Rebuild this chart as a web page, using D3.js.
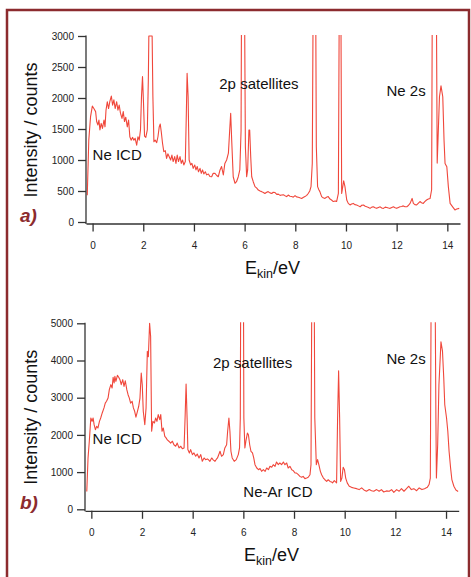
<!DOCTYPE html>
<html>
<head>
<meta charset="utf-8">
<script src="https://cdn.jsdelivr.net/npm/d3@7"></script>
<style>
  body { margin: 0; background: #fff; }
  svg { font-family: "Liberation Sans", Arial, Helvetica, sans-serif; }
</style>
</head>
<body>
<script>
// spectrum a)
var energyA = [-0.21,-0.15,-0.08,-0.01,0.05,0.12,0.16,0.21,0.25,0.29,0.34,0.39,0.45,0.49,0.53,0.58,0.63,0.68,0.74,0.79,0.84,0.89,0.95,1.00,1.05,1.10,1.16,1.21,1.26,1.31,1.37,1.42,1.47,1.52,1.58,1.63,1.68,1.74,1.79,1.84,1.89,1.93,1.97,2.01,2.05,2.10,2.16,2.20,2.22,2.35,2.38,2.42,2.47,2.53,2.58,2.63,2.67,2.71,2.76,2.81,2.87,2.92,2.97,3.02,3.08,3.13,3.18,3.24,3.29,3.34,3.39,3.45,3.50,3.55,3.60,3.66,3.70,3.73,3.77,3.81,3.87,3.92,3.97,4.03,4.08,4.13,4.18,4.24,4.29,4.34,4.39,4.45,4.50,4.57,4.63,4.70,4.76,4.83,4.90,4.96,5.03,5.09,5.16,5.22,5.29,5.36,5.41,5.45,5.49,5.55,5.62,5.68,5.75,5.81,5.86,5.89,5.94,5.99,6.03,6.08,6.12,6.17,6.20,6.24,6.28,6.34,6.41,6.48,6.54,6.61,6.67,6.74,6.80,6.87,6.93,7.00,7.07,7.13,7.20,7.27,7.33,7.40,7.46,7.53,7.59,7.66,7.72,7.79,7.86,7.92,7.99,8.05,8.12,8.18,8.25,8.31,8.38,8.45,8.51,8.57,8.62,8.67,8.71,8.76,8.80,8.83,8.88,8.93,8.97,9.04,9.10,9.17,9.23,9.30,9.37,9.43,9.50,9.57,9.63,9.70,9.74,9.77,9.80,9.83,9.87,9.91,9.96,10.03,10.09,10.16,10.22,10.29,10.35,10.42,10.49,10.56,10.62,10.69,10.76,10.82,10.89,10.95,11.02,11.08,11.15,11.21,11.28,11.35,11.41,11.48,11.55,11.61,11.68,11.74,11.81,11.87,11.94,12.00,12.07,12.13,12.20,12.26,12.33,12.40,12.47,12.53,12.61,12.66,12.72,12.79,12.85,12.92,12.98,13.05,13.11,13.18,13.25,13.32,13.38,13.41,13.47,13.55,13.60,13.69,13.75,13.82,13.87,13.91,13.98,14.04,14.11,14.21,14.30,14.37,14.47];
var countsA = [430,1320,1700,1870,1830,1780,1620,1565,1645,1485,1590,1510,1645,1535,1805,1940,1830,1940,2030,1885,1970,1830,1940,1805,1885,1755,1670,1780,1620,1690,1535,1645,1375,1320,1365,1320,1350,1240,1375,1320,1485,2020,2345,1915,1385,1365,1485,2290,3000,3000,2020,1295,1320,1280,1375,1535,1580,1455,1270,1135,1150,1025,1100,1055,1000,1080,975,1055,945,1080,975,1055,945,1000,920,975,1755,2400,2020,1000,920,945,865,920,840,895,810,865,785,840,775,810,760,775,735,730,785,785,750,730,840,895,760,945,1000,1110,1475,1755,1320,730,625,650,730,840,1475,5000,8000,4000,1215,730,840,1485,1485,1055,730,650,570,545,515,500,490,475,460,480,490,470,460,480,475,445,450,430,435,440,425,410,435,415,410,400,425,405,400,390,380,395,410,430,460,500,570,945,4000,8000,4000,1215,570,520,490,410,390,380,400,410,370,355,330,340,330,460,4000,8000,3500,460,560,665,570,355,300,275,290,300,280,275,260,245,270,275,255,245,235,220,240,245,230,220,235,245,225,220,240,235,225,220,235,245,230,220,235,245,250,260,245,245,270,300,380,300,280,275,300,330,310,300,330,355,370,380,520,4000,9000,5000,950,2020,2195,2020,1320,945,890,570,300,245,195,210,220];

// spectrum b)
var energyB = [-0.18,-0.13,-0.08,-0.02,0.03,0.07,0.11,0.16,0.21,0.26,0.32,0.37,0.43,0.50,0.55,0.60,0.66,0.71,0.77,0.82,0.86,0.90,0.93,0.97,1.03,1.08,1.13,1.18,1.24,1.29,1.34,1.40,1.45,1.50,1.55,1.61,1.66,1.71,1.76,1.82,1.87,1.92,1.97,2.01,2.05,2.11,2.16,2.21,2.25,2.30,2.34,2.38,2.43,2.49,2.54,2.59,2.64,2.70,2.74,2.79,2.84,2.90,2.95,3.00,3.06,3.13,3.20,3.26,3.33,3.39,3.46,3.53,3.59,3.66,3.70,3.74,3.78,3.81,3.87,3.92,3.99,4.05,4.12,4.18,4.25,4.32,4.38,4.45,4.51,4.58,4.62,4.68,4.75,4.81,4.88,4.93,4.98,5.08,5.14,5.21,5.27,5.34,5.38,5.43,5.47,5.51,5.56,5.64,5.72,5.80,5.85,5.88,5.90,5.95,6.00,6.02,6.06,6.10,6.16,6.20,6.25,6.30,6.36,6.41,6.46,6.53,6.60,6.66,6.72,6.79,6.86,6.92,6.99,7.05,7.12,7.18,7.25,7.31,7.38,7.44,7.51,7.58,7.64,7.71,7.77,7.84,7.91,7.97,8.04,8.10,8.17,8.23,8.30,8.36,8.43,8.50,8.56,8.63,8.67,8.71,8.75,8.79,8.82,8.88,8.93,8.98,9.04,9.09,9.16,9.22,9.29,9.35,9.42,9.48,9.52,9.59,9.64,9.68,9.72,9.76,9.80,9.84,9.89,9.94,9.99,10.04,10.10,10.18,10.27,10.36,10.47,10.57,10.67,10.76,10.86,10.97,11.06,11.15,11.26,11.36,11.45,11.54,11.65,11.76,11.85,11.94,12.05,12.15,12.24,12.34,12.44,12.53,12.63,12.73,12.84,12.94,13.05,13.15,13.26,13.33,13.38,13.42,13.49,13.56,13.60,13.62,13.67,13.72,13.80,13.86,13.91,13.95,14.02,14.07,14.12,14.18,14.23,14.31,14.39,14.48];
var countsB = [480,1380,1830,2455,2365,2455,2275,2140,2230,2185,2365,2455,2590,2725,2855,2905,2990,3215,3350,3260,3550,3395,3575,3440,3600,3550,3485,3350,3485,3305,3455,3215,3080,2990,2855,2905,2725,2635,2475,2635,2770,2990,3665,3350,2635,2275,2725,4245,4100,5000,4650,2100,2365,2320,2455,2365,2545,2410,2545,2100,2185,1960,1920,1865,1830,1780,1830,1735,1695,1780,1650,1695,1630,1650,2455,3370,2455,1605,1515,1605,1470,1515,1425,1485,1380,1470,1290,1380,1335,1355,1335,1290,1380,1330,1290,1340,1380,1560,1425,1470,1650,1735,2100,2455,2100,1560,1380,1290,1335,1470,1650,2455,7000,12000,7000,2455,1650,1830,2050,2005,1735,1560,1515,1380,1200,1110,1065,1095,1020,1065,1020,1110,1065,1155,1130,1200,1155,1270,1200,1245,1200,1270,1200,1245,1110,1155,1065,1040,975,975,930,885,860,885,825,840,860,930,1200,7000,12000,7000,2455,1200,1335,1200,1020,930,840,795,750,795,750,735,710,770,735,710,2455,3725,2455,750,840,1130,1065,840,710,620,590,575,555,530,575,520,485,530,500,485,530,485,530,465,495,485,530,455,530,485,555,485,555,620,530,555,500,575,530,555,590,665,840,7000,12000,7000,2455,840,1735,3350,4500,4250,3530,2810,2455,2100,1560,1110,800,620,520,480];

var xTicks = [0, 2, 4, 6, 8, 10, 12, 14];
var yTicksA = [0, 500, 1000, 1500, 2000, 2500, 3000];
var yTicksB = [0, 1000, 2000, 3000, 4000, 5000];

var labelsA = [["Ne ICD", 0.0, 1000], ["2p satellites", 5.0, 2150], ["Ne 2s", 11.6, 2040]];
var labelsB = [["Ne ICD", 0.05, 1760], ["2p satellites", 4.8, 3800], ["Ne 2s", 11.65, 3900], ["Ne-Ar ICD", 6.0, 330]];

var svg = d3.select("body").append("svg")
    .attr("width", 471)
    .attr("height", 577);

// dark red frame
svg.append("rect")
    .attr("x", 7).attr("y", 10)
    .attr("width", 462).attr("height", 600)
    .attr("fill", "none")
    .attr("stroke", "#8c2b2e")
    .attr("stroke-width", 2.5);

function drawPanel(p) {
    var x = d3.scaleLinear().domain([p.xmin, 14.5]).range([p.left, p.right]);
    var y = d3.scaleLinear().domain([0, p.ymax]).range([p.bottom, p.top]);
    var g = svg.append("g");

    g.append("clipPath").attr("id", p.id)
        .append("rect")
        .attr("x", p.left).attr("y", p.top - 1)
        .attr("width", p.right - p.left).attr("height", p.bottom - p.top + 3);

    var pts = p.energy.map((e, i) => [e, p.counts[i]]);
    var line = d3.line().x(d => x(d[0])).y(d => y(d[1]));
    g.append("path")
        .datum(pts)
        .attr("clip-path", `url(#${p.id})`)
        .attr("d", line)
        .attr("fill", "none")
        .attr("stroke", "#f0473b")
        .attr("stroke-width", 1.1)
        .attr("stroke-linejoin", "round");

    // axes
    var yAxis = g.append("g")
        .attr("transform", `translate(${p.left},0)`)
        .call(d3.axisLeft(y).tickValues(p.yTicks).tickFormat(d3.format("d"))
            .tickSize(8).tickPadding(4).tickSizeOuter(0));
    yAxis.select(".domain").remove();
    g.append("line")
        .attr("x1", p.left).attr("x2", p.left)
        .attr("y1", p.top - 0.5).attr("y2", p.bottom + 2)
        .attr("stroke", "#333").attr("stroke-width", 1.3);

    var xAxis = g.append("g")
        .attr("transform", `translate(0,${p.bottom + 1.5})`)
        .call(d3.axisBottom(x).tickValues(xTicks).tickFormat(d3.format("d"))
            .tickSize(8).tickPadding(10).tickSizeOuter(0));

    g.selectAll(".tick line").attr("stroke", "#333").attr("stroke-width", 1.3);
    xAxis.select(".domain").attr("stroke", "#333").attr("stroke-width", 1.3);
    g.selectAll(".tick text").attr("font-size", "10px").attr("fill", "#222")
        .attr("font-family", "Liberation Sans, Arial, sans-serif");

    // y label
    g.append("text")
        .attr("transform", `translate(37,${(p.top + p.bottom) / 2 + 1}) rotate(-90)`)
        .attr("text-anchor", "middle")
        .attr("font-size", "18px")
        .attr("fill", "#111")
        .text("Intensity / counts");

    // x label
    var xl = g.append("text")
        .attr("x", p.xlabX).attr("y", p.xlabY)
        .attr("font-size", "18px")
        .attr("fill", "#111");
    xl.append("tspan").text("E");
    xl.append("tspan").attr("font-size", "12.5px").attr("dy", 4).text("kin");
    xl.append("tspan").attr("dy", -4).text("/eV");

    // panel letter
    g.append("text")
        .attr("x", 20).attr("y", p.bottom)
        .attr("font-size", "19px")
        .attr("font-weight", "bold")
        .attr("font-style", "italic")
        .attr("fill", "#8c2b2e")
        .text(p.letter);

    g.selectAll(".note")
        .data(p.labels)
        .enter()
        .append("text")
        .attr("class", "note")
        .attr("x", d => x(d[1]))
        .attr("y", d => y(d[2]))
        .attr("font-size", "15px")
        .attr("fill", "#111")
        .text(d => d[0]);
}

drawPanel({
    id: "clipA", letter: "a)",
    energy: energyA, counts: countsA, yTicks: yTicksA, labels: labelsA,
    xmin: -0.26, ymax: 3000,
    left: 86, right: 460, top: 36, bottom: 222,
    xlabX: 245, xlabY: 274
});

drawPanel({
    id: "clipB", letter: "b)",
    energy: energyB, counts: countsB, yTicks: yTicksB, labels: labelsB,
    xmin: -0.25, ymax: 5000,
    left: 85, right: 458.7, top: 323.3, bottom: 509.3,
    xlabX: 244, xlabY: 561
});
</script>
</body>
</html>
